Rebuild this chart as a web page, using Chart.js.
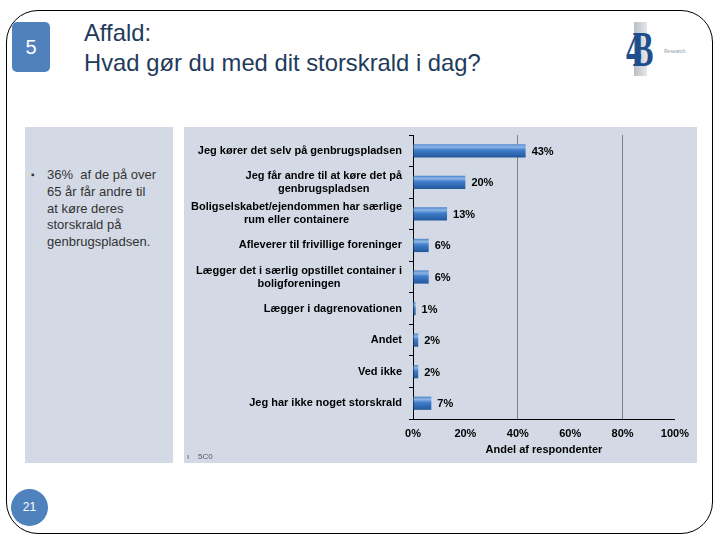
<!DOCTYPE html>
<html>
<head>
<meta charset="utf-8">
<script src="https://cdn.jsdelivr.net/npm/chart.js@4/dist/chart.umd.min.js"></script>
<style>
  html, body { margin: 0; padding: 0; background: #fff; }
  body { width: 720px; height: 540px; position: relative; overflow: hidden; font-family: "Liberation Sans", Arial, sans-serif; }
  .slide { position: absolute; left: 6px; top: 10px; width: 707px; height: 524px; border: 1px solid #000; border-radius: 32px; box-sizing: border-box; }
  .num { position: absolute; left: 12px; top: 22px; width: 38px; height: 50px; background: #4F81BD; border-radius: 5px; color: #fff; font-size: 20px; line-height: 50px; text-align: center; }
  .title { position: absolute; left: 84px; top: 18px; color: #1F3B5C; font-size: 23.8px; line-height: 30px; }
  .logo { position: absolute; left: 626px; top: 22px; width: 70px; height: 56px; }
  .logo .bg { position: absolute; left: 8px; top: 0; width: 13px; height: 54px; background: linear-gradient(90deg, #b9bec4, #e6e8ea); }
  .logo .mark { position: absolute; left: 0; top: 2px; font: bold 50px "Liberation Serif", serif; line-height: 50px; color: #1F4E8C; letter-spacing: -14px; transform: scaleX(0.62); transform-origin: left; }
  .logo .res { position: absolute; left: 38px; top: 26px; font-size: 5px; color: #8a9aa8; }
  .left { position: absolute; left: 25px; top: 127px; width: 148px; height: 336px; background: #D3DAE6; }
  .bullet { position: absolute; left: 6px; top: 40px; color: #333; font-size: 13px; line-height: 16.8px; }
  .bullet .dot { position: absolute; left: 0; top: 0; font-size: 10px; }
  .bullet .txt { position: absolute; left: 16px; top: 0; width: 135px; white-space: nowrap; }
  .panel { position: absolute; left: 184px; top: 127px; width: 513px; height: 336px; background: #D3DAE6; }
  .foot { position: absolute; left: 187px; top: 452px; font-size: 8px; color: #555; }
  .page { position: absolute; left: 11px; top: 489px; width: 37px; height: 37px; border-radius: 50%; background: #4F81BD; color: #fff; font-size: 12px; line-height: 37px; text-align: center; }
</style>
</head>
<body>
<div class="slide"></div>
<div class="num">5</div>
<div class="title">Affald:<br>Hvad gør du med dit storskrald i dag?</div>
<div class="logo"><div class="bg"></div><div class="mark">4B</div><div class="res">Research</div></div>
<div class="left">
  <div class="bullet"><span class="dot">▪</span><div class="txt">36% &nbsp;af de på over<br>65 år får andre til<br>at køre deres<br>storskrald på<br>genbrugspladsen.</div></div>
</div>
<div class="panel"><canvas id="chart" width="513" height="336"></canvas></div>
<div class="foot">ı &nbsp;&nbsp; 5C0</div>
<div class="page">21</div>

<script>
const categories = [
  ['Jeg kører det selv på genbrugspladsen'],
  ['Jeg får andre til at køre det på', 'genbrugspladsen'],
  ['Boligselskabet/ejendommen har særlige', 'rum eller containere'],
  ['Afleverer til frivillige foreninger'],
  ['Lægger det i særlig opstillet container i', 'boligforeningen'],
  ['Lægger i dagrenovationen'],
  ['Andet'],
  ['Ved ikke'],
  ['Jeg har ikke noget storskrald']
];
const shares = [43, 20, 13, 6, 6, 1, 2, 2, 7];
const xTicks = [0, 20, 40, 60, 80, 100];
const gridAt = [40, 80];

const labelFont = 'bold 11px "Liberation Sans", Arial, sans-serif';

// category labels: block right-aligned, lines centred within the block
const catLabels = {
  id: 'catLabels',
  afterDraw(chart) {
    const { ctx, scales: { y } } = chart;
    ctx.save();
    ctx.font = labelFont;
    ctx.fillStyle = '#000';
    ctx.textAlign = 'center';
    ctx.textBaseline = 'middle';
    const right = y.right - 11;
    categories.forEach((lines, i) => {
      const w = Math.max(...lines.map(l => ctx.measureText(l).width));
      const cx = right - w / 2;
      const cy = y.getPixelForValue(i);
      const lh = 13;
      lines.forEach((l, j) => {
        ctx.fillText(l, cx, cy + (j - (lines.length - 1) / 2) * lh);
      });
    });
    ctx.restore();
  }
};

const valueLabels = {
  id: 'valueLabels',
  afterDatasetsDraw(chart) {
    const { ctx } = chart;
    const meta = chart.getDatasetMeta(0);
    ctx.save();
    ctx.font = labelFont;
    ctx.fillStyle = '#000';
    ctx.textAlign = 'left';
    ctx.textBaseline = 'middle';
    meta.data.forEach((bar, i) => {
      ctx.fillText(shares[i] + '%', bar.x + 6, bar.y + 1);
    });
    ctx.restore();
  }
};

function barFill(c) {
  const chart = c.chart;
  if (!chart.chartArea) return '#4F81BD';
  const y = chart.scales.y.getPixelForValue(c.dataIndex);
  const g = chart.ctx.createLinearGradient(0, y - 6.5, 0, y + 6.5);
  g.addColorStop(0, '#4F86CC');
  g.addColorStop(0.2, '#8FB6E6');
  g.addColorStop(0.45, '#3F7DCB');
  g.addColorStop(1, '#23599C');
  return g;
}

new Chart(document.getElementById('chart'), {
  type: 'bar',
  data: {
    labels: categories.map(l => l.join(' ')),
    datasets: [{
      data: shares,
      backgroundColor: barFill,
      borderWidth: 0,
      barPercentage: 0.42,
      categoryPercentage: 1
    }]
  },
  options: {
    indexAxis: 'y',
    responsive: false,
    animation: false,
    layout: { padding: { top: 8, right: 21, left: 0, bottom: 6 } },
    plugins: { legend: { display: false }, tooltip: { enabled: false } },
    scales: {
      x: {
        min: 0,
        max: 100,
        afterBuildTicks(scale) { scale.ticks = xTicks.map(v => ({ value: v })); },
        afterFit(scale) { scale.height = 38; },
        border: { color: '#000', width: 1 },
        grid: {
          color: c => gridAt.includes(c.tick.value) ? '#7f7f7f' : 'rgba(0,0,0,0)',
          drawTicks: false
        },
        ticks: {
          color: '#000',
          padding: 8,
          font: { family: '"Liberation Sans", Arial, sans-serif', size: 11, weight: 'bold' },
          callback: v => v + '%'
        },
        title: {
          display: true,
          text: 'Andel af respondenter',
          color: '#000',
          padding: { top: 1, bottom: 0 },
          font: { family: '"Liberation Sans", Arial, sans-serif', size: 11, weight: 'bold' }
        }
      },
      y: {
        afterFit(scale) { scale.width = 229; },
        border: { color: '#000', width: 1 },
        grid: { offset: true, drawOnChartArea: false, color: '#000', tickLength: 4 },
        ticks: { display: false }
      }
    }
  },
  plugins: [catLabels, valueLabels]
});
</script>
</body>
</html>
